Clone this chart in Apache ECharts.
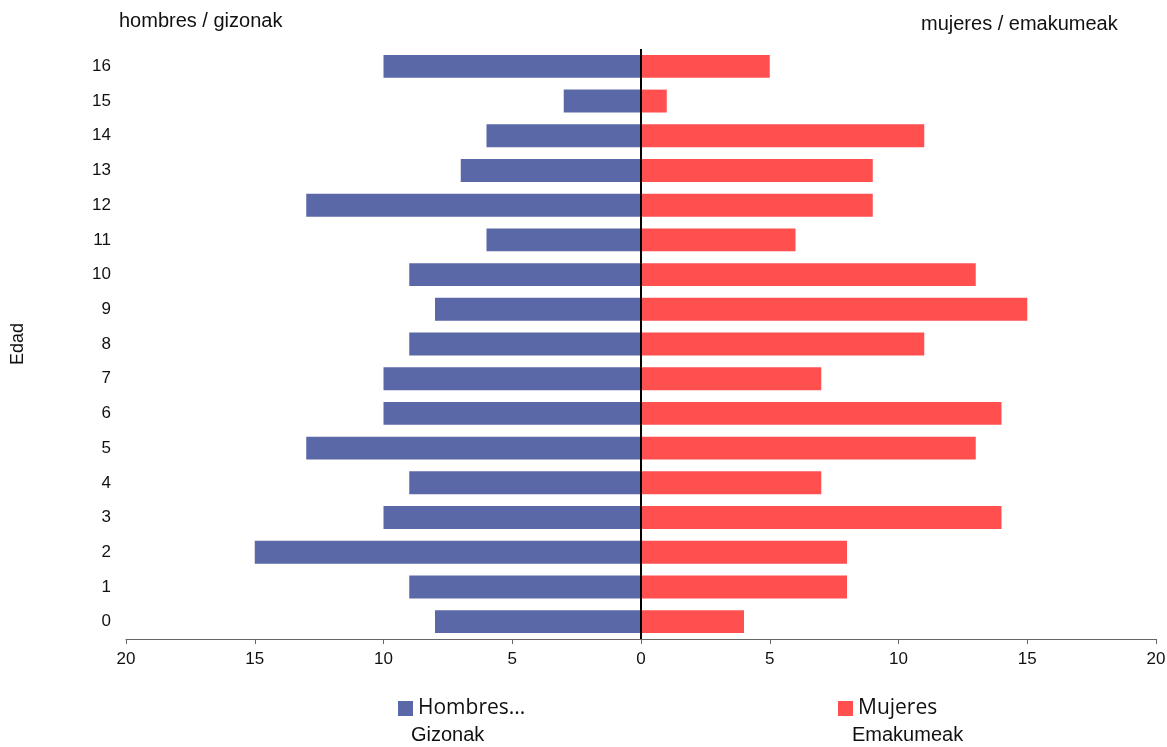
<!DOCTYPE html>
<html><head><meta charset="utf-8">
<script src="https://cdn.jsdelivr.net/npm/echarts@6/dist/echarts.min.js"></script>
<style>html,body{margin:0;padding:0;background:#fff}#c{width:1167px;height:747px}</style>
</head><body><div id="c"></div>
<script>
const ages = ['0','1','2','3','4','5','6','7','8','9','10','11','12','13','14','15','16'];
const hombres = [8, 9, 15, 10, 9, 13, 10, 10, 9, 8, 9, 6, 13, 7, 6, 3, 10];
const mujeres = [4, 8, 8, 14, 7, 13, 14, 7, 11, 15, 13, 6, 9, 9, 11, 1, 5];
const xTicks = { min: -20, max: 20, interval: 5 };

const chart = echarts.init(document.getElementById('c'), null, {renderer: 'canvas'});
const font = 'Liberation Sans, Arial, sans-serif';
chart.setOption({
  animation: false,
  textStyle: { fontFamily: font },
  grid: { left: 126, right: 11, top: 49, bottom: 108, outerBoundsMode: 'none', containLabel: false },
  legend: [
    { data: [{ name: 'Hombres...', icon: 'rect' }], left: 393, top: 693, itemWidth: 15, itemHeight: 15, itemGap: 6,
      textStyle: { fontSize: 21, color: '#111', fontFamily: 'Open Sans, sans-serif' } },
    { data: [{ name: 'Mujeres', icon: 'rect' }], left: 833, top: 693, itemWidth: 15, itemHeight: 15,
      textStyle: { fontSize: 21, color: '#111', fontFamily: 'Open Sans, sans-serif' } }
  ],
  xAxis: {
    type: 'value', min: xTicks.min, max: xTicks.max, interval: xTicks.interval,
    axisLine: { show: true, onZero: false, lineStyle: { color: '#666', width: 1 } },
    axisTick: { show: true, length: 5, lineStyle: { color: '#666' } },
    splitLine: { show: false },
    axisLabel: { formatter: v => Math.abs(v), fontSize: 17, color: '#111', margin: 12 }
  },
  yAxis: {
    type: 'category', data: ages,
    name: 'Edad', nameLocation: 'middle', nameGap: 99, nameRotate: 90,
    nameTextStyle: { fontSize: 18, color: '#111' },
    axisLine: { show: false, onZero: false },
    axisTick: { show: false },
    axisLabel: { fontSize: 17, color: '#111', margin: 15 }
  },
  series: [
    { name: 'Hombres...', type: 'bar', stack: 's', barWidth: '66%',
      data: hombres.map(v => -v), itemStyle: { color: '#5A68A8' },
      markLine: { silent: true, symbol: 'none', label: { show: false },
        lineStyle: { color: '#000', width: 2, type: 'solid' }, data: [{ xAxis: 0 }] } },
    { name: 'Mujeres', type: 'bar', stack: 's', barWidth: '66%',
      data: mujeres, itemStyle: { color: '#FF4F4F' } }
  ],
  graphic: [
    { type: 'text', left: 119, top: 11, style: { text: 'hombres / gizonak', fill: '#111', font: '20px ' + font } },
    { type: 'text', left: 921, top: 14, style: { text: 'mujeres / emakumeak', fill: '#111', font: '20px ' + font } },
    { type: 'text', left: 411, top: 725, style: { text: 'Gizonak', fill: '#111', font: '20px ' + font } },
    { type: 'text', left: 852, top: 725, style: { text: 'Emakumeak', fill: '#111', font: '20px ' + font } }
  ]
});
</script></body></html>
